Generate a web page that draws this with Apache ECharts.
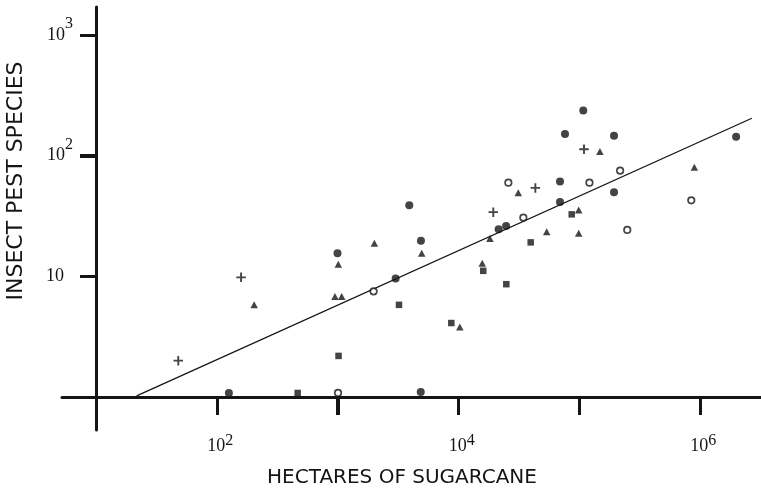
<!DOCTYPE html>
<html><head><meta charset="utf-8">
<script src="https://cdn.jsdelivr.net/npm/echarts@6/dist/echarts.min.js"></script>
<style>html,body{margin:0;padding:0;background:#fff}#c{width:761px;height:496px}</style>
</head><body><div id="c"></div>
<script>
// ---- data (hectares of sugarcane, insect pest species) ----
const plusPts = [[48,2.0],[159,9.8],[19500,34],[43500,54],[110000,113]];
const filledCircles = [[126,1.08],[1000,15.5],[3030,9.6],[3930,38.7],[4910,19.7],[4890,1.1],[21600,24.5],[24900,26.1],[69600,61],[69600,41.3],[76600,151],[108500,236],[195000,146],[195000,49.6],[2000000,143]];
const openCircles = [[1010,1.08],[1990,7.5],[26000,59.6],[34600,30.6],[122000,59.6],[219000,75],[251000,24.2],[851000,42.6]];
const triangles = [[204,5.8],[1015,12.6],[953,6.8],[1083,6.8],[2020,18.8],[4980,15.5],[10300,3.8],[15800,12.8],[18300,20.6],[31400,49.3],[54000,23.4],[99400,35.4],[99400,22.7],[149000,108],[902000,80]];
const squares = [[468,1.08],[1020,2.19],[3230,5.8],[8760,4.1],[16100,11.1],[25000,8.6],[39800,19.1],[87000,32.6]];
const fitLine = [[21.7,1.02],[2700000,204]];
const xTicks = [100,1000,10000,100000,1000000];
const xTickLabels = [100,10000,1000000];
const yTicks = [10,100,1000];
const yTickLabels = [10,100,1000];
const xTitle = 'HECTARES OF SUGARCANE';
const yTitle = 'INSECT PEST SPECIES';

const INK = '#151515';
const NUMFONT = 'Liberation Serif';
const X_MIN = Math.pow(10, 0.7184), X_MAX = Math.pow(10, 6.5072);
const Y_MIN = Math.pow(10, -0.2734), Y_MAX = Math.pow(10, 3.2311);
const PLUS = 'path://M4,0H6V4H10V6H6V10H4V6H0V4H4Z';

function expOf(v){ return Math.round(Math.log10(v)); }
function xFmt(v){ return '{b|10}{s|' + expOf(v) + '}'; }
function yFmt(v){
  const e = expOf(v);
  if (e === 1) return '{p|10}';
  return '{b|10}{s|' + e + '}';
}

const titles = [
  {type:'text', x:402, y:477.5, silent:true,
   style:{text:xTitle, font:'20px "DejaVu Sans"', fill:INK, textAlign:'center', textVerticalAlign:'middle'}},
  {type:'text', x:16.5, y:181, rotation:Math.PI/2, silent:true,
   style:{text:yTitle, font:'22px "DejaVu Sans"', fill:INK, textAlign:'center', textVerticalAlign:'middle'}}
];

const chart = echarts.init(document.getElementById('c'), null, {renderer:'canvas'});
const scatterBase = {type:'scatter', silent:true, z:3};
chart.setOption({
  animation:false,
  backgroundColor:'#fff',
  grid:{left:62, right:0, top:7, bottom:66, outerBoundsMode:'none', containLabel:false},
  xAxis:{type:'log', min:X_MIN, max:X_MAX, position:'bottom', offset:-33,
     axisLine:{show:true, onZero:false, lineStyle:{color:INK, width:3}},
     axisTick:{show:true, length:18, customValues:xTicks, lineStyle:{color:INK, width:3}},
     splitLine:{show:false},
     axisLabel:{show:true, margin:37, customValues:xTickLabels, formatter:xFmt, color:INK,
       rich:{
         b:{fontFamily:NUMFONT, fontSize:18, lineHeight:24, color:INK, padding:[0,0,0,7]},
         s:{fontFamily:NUMFONT, fontSize:16, lineHeight:24, color:INK, padding:[0,0,11,0]}
       }}},
  yAxis:{type:'log', min:Y_MIN, max:Y_MAX, position:'left', offset:-34,
     axisLine:{show:true, onZero:false, lineStyle:{color:INK, width:3}},
     axisTick:{show:true, length:16, customValues:yTicks, lineStyle:{color:INK, width:3}},
     splitLine:{show:false},
     axisLabel:{show:true, margin:23, customValues:yTickLabels, formatter:yFmt, color:INK,
       rich:{
         b:{fontFamily:NUMFONT, fontSize:18, lineHeight:24, color:INK},
         p:{fontFamily:NUMFONT, fontSize:18, lineHeight:24, color:INK, padding:[0,9,0,0]},
         s:{fontFamily:NUMFONT, fontSize:16, lineHeight:24, color:INK, padding:[0,0,22,0]}
       }}},
  graphic:titles,
  series:[
    {type:'line', data:fitLine, symbol:'none', silent:true, z:2,
     lineStyle:{color:INK, width:1.3}},
    Object.assign({}, scatterBase, {data:filledCircles, symbol:'circle', symbolSize:8, itemStyle:{color:INK}}),
    Object.assign({}, scatterBase, {data:openCircles, symbol:'circle', symbolSize:6.5, itemStyle:{color:'#fff', borderColor:INK, borderWidth:1.7}}),
    Object.assign({}, scatterBase, {data:triangles, symbol:'triangle', symbolSize:[7.5,7], itemStyle:{color:INK}}),
    Object.assign({}, scatterBase, {data:squares, symbol:'rect', symbolSize:6.5, itemStyle:{color:INK}}),
    Object.assign({}, scatterBase, {data:plusPts, symbol:PLUS, symbolSize:9.5, itemStyle:{color:INK}})
  ]
});

// tick marks placed through the library's own axis scales (backup for axisTick)
const y0 = chart.convertToPixel({yAxisIndex:0}, 1);
const x0 = chart.convertToPixel({xAxisIndex:0}, 10);
const tickMarks = [];
xTicks.forEach(v => {
  const px = Math.round(chart.convertToPixel({xAxisIndex:0}, v)) + 0.5;
  tickMarks.push({type:'line', silent:true, z:5, shape:{x1:px, y1:y0, x2:px, y2:y0 + 18}, style:{stroke:INK, lineWidth:3}});
});
yTicks.forEach(v => {
  const py = Math.round(chart.convertToPixel({yAxisIndex:0}, v)) + 0.5;
  tickMarks.push({type:'line', silent:true, z:5, shape:{x1:x0 - 16, y1:py, x2:x0, y2:py}, style:{stroke:INK, lineWidth:3}});
});
chart.setOption({graphic: titles.concat(tickMarks)});
</script></body></html>
